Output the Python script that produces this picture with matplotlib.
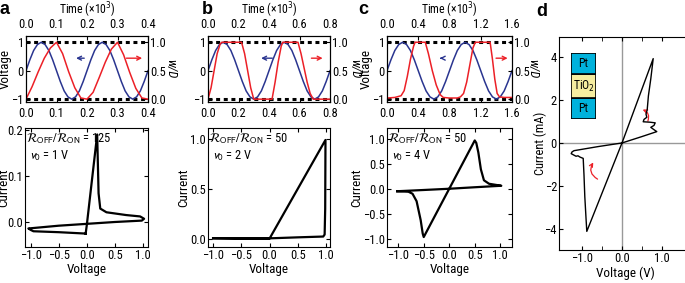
import matplotlib
matplotlib.use('Agg')
import matplotlib.pyplot as plt
from matplotlib.patches import FancyArrowPatch
import numpy as np

# narrow sans, close to the condensed Helvetica of the original
plt.rcParams['font.family'] = ['Roboto Condensed', 'DejaVu Sans']
plt.rcParams['font.stretch'] = 'condensed'
FS = 9.5
plt.rcParams['font.size'] = FS
plt.rcParams['xtick.labelsize'] = 9
plt.rcParams['ytick.labelsize'] = 9

BLUE = '#2a3590'
RED = '#ec2027'

# applied voltage (normalised), two periods, same shape for a, b, c
volt = [0, 0.38, 0.71, 0.92, 1, 0.92, 0.71, 0.38, 0, -0.38, -0.71, -0.92, -1, -0.92, -0.71, -0.38,
        0, 0.38, 0.71, 0.92, 1, 0.92, 0.71, 0.38, 0, -0.38, -0.71, -0.92, -1, -0.92, -0.71, -0.38, 0]
t_frac = np.linspace(0, 1, len(volt))

# w/D state variable
wt_a = [0, 0.02, 0.04, 0.06, 0.08, 0.1, 0.12, 0.14, 0.16, 0.18, 0.2, 0.22, 0.24, 0.26, 0.28,
        0.3, 0.32, 0.34, 0.36, 0.38, 0.4]
w_a = [0, 0.22, 0.48, 0.72, 0.9, 1.0, 0.8, 0.48, 0.2, 0.02, 0, 0.12, 0.38, 0.65, 0.88,
       1.0, 0.78, 0.47, 0.19, 0.02, 0]
wt_b = [0, 0.02, 0.04, 0.06, 0.08, 0.09, 0.22, 0.24, 0.26, 0.28, 0.3, 0.42, 0.44, 0.46, 0.48,
        0.49, 0.59, 0.61, 0.63, 0.65, 0.67, 0.69, 0.8]
w_b = [0, 0.2, 0.5, 0.8, 0.97, 1, 1, 0.8, 0.5, 0.2, 0, 0, 0.3, 0.65, 0.93,
       1, 1, 0.8, 0.55, 0.3, 0.1, 0, 0]
wt_c = [0, 0.1, 0.18, 0.22, 0.26, 0.3, 0.34, 0.36, 0.49, 0.53, 0.58, 0.63, 0.68, 0.72, 0.8,
        0.9, 0.94, 0.98, 1.02, 1.06, 1.1, 1.13, 1.32, 1.35, 1.38, 1.41, 1.44, 1.5, 1.6]
w_c = [0.02, 0.03, 0.06, 0.15, 0.4, 0.7, 0.93, 1, 1, 0.8, 0.5, 0.25, 0.08, 0.03, 0.02,
       0.02, 0.04, 0.1, 0.3, 0.6, 0.9, 1, 1, 0.7, 0.35, 0.1, 0.04, 0.03, 0.03]

# I-V loops
iv_a_v = [-0.02, 0.0, 0.185, 0.21, 0.24, 0.35, 0.7, 0.95, 1.02, 0.98, 0.5, 0.0, -0.5,
          -1.04, -1.0, -0.95, -0.5, -0.02]
iv_a_i = [-0.024, -0.006, 0.19, 0.063, 0.03, 0.022, 0.016, 0.013, 0.008, 0.004, 0.001, -0.003,
          -0.007, -0.013, -0.016, -0.019, -0.021, -0.024]
iv_b_v = [-1.0, -0.5, 0.0, 0.5, 0.99, 0.985, 0.975, 0.95, 0.5, 0.0, -0.5, -1.0]
iv_b_i = [0.004, 0.002, 0.0, 0.5, 0.99, 0.3, 0.04, 0.02, 0.012, 0.002, 0.0, 0.002]
iv_c_v = [-1.02, -0.8, -0.72, -0.64, -0.56, -0.52, -0.5, 0.0, 0.5, 0.53, 0.57, 0.62, 0.68,
          0.78, 0.9, 1.02, 0.5, 0.0, -0.5, -1.02]
iv_c_i = [-0.05, -0.06, -0.1, -0.25, -0.63, -0.9, -0.97, 0.0, 0.97, 0.92, 0.73, 0.39, 0.17,
          0.1, 0.08, 0.06, 0.03, 0.0, -0.025, -0.05]

# experimental TiO2 device
d_v = [0, 0.78, 0.72, 0.66, 0.63, 0.6, 0.62, 0.55, 0.53, 0.7, 0.83, 0.8, 0.72, 0.8, 0.87, 0.5, 0,
       -0.88, -0.9, -0.93, -0.95, -0.97, -1.05, -1.1, -1.15, -1.22, -1.27, -1.25, -1.2, -0.6, 0]
d_i = [0, 3.94, 3.0, 2.2, 1.55, 1.35, 1.2, 1.1, 0.99, 0.97, 0.94, 0.82, 0.73, 0.62, 0.53, 0.3, 0,
       -4.13, -3.5, -2.5, -1.5, -0.72, -0.66, -0.6, -0.62, -0.55, -0.5, -0.42, -0.36, -0.17, 0]

stack_labels = ['Pt', 'TiO$_2$', 'Pt']
stack_colors = ['#00b2dc', '#f6eda0', '#00b2dc']

W, H = 685, 283
fig = plt.figure(figsize=(W / 100, H / 100), dpi=100)


def rect(x0, y0, x1, y1):
    return [x0 / W, 1 - y1 / H, (x1 - x0) / W, (y1 - y0) / H]


def top_panel(r, tmax, tticks, wt, w, blue_arr, red_arr, vlab_x, wlab_x):
    ax = fig.add_axes(r)
    for y in (1, -1):
        ax.axhline(y, color='black', lw=2.2, ls=(0, (1.3, 1.2)), zorder=1)
    ax.plot(t_frac * tmax, volt, color=BLUE, lw=1.1, zorder=2)
    ax.set_xlim(0, tmax)
    ax.set_ylim(-1.1, 1.22)
    ax.set_yticks([-1, 0, 1])
    ax.set_xticks(tticks)
    ax.xaxis.set_major_formatter('{x:.1f}')
    ax.tick_params(direction='in', length=3, pad=1.5, top=True, labeltop=True)
    ax.tick_params(axis='x', pad=3.5)
    if vlab_x is not None:
        ax.set_ylabel('Voltage')
        ax.yaxis.set_label_coords(vlab_x, 0.5)
    ax.set_xlabel('Time (\u00d710$^3$)', labelpad=3, fontsize=8.5)
    ax.xaxis.set_label_position('top')
    ax.annotate('', xy=(blue_arr[1], 0.44), xytext=(blue_arr[0], 0.44),
                arrowprops=dict(arrowstyle='->', color=BLUE, lw=1, mutation_scale=7))
    ax.annotate('', xy=(red_arr[1], 0.44), xytext=(red_arr[0], 0.44),
                arrowprops=dict(arrowstyle='->', color=RED, lw=1, mutation_scale=7))
    ax2 = ax.twinx()
    ax2.plot(wt, w, color=RED, lw=1.1)
    ax2.set_ylim(-0.05, 1.11)
    ax2.set_yticks([0, 0.5, 1.0])
    ax2.yaxis.set_major_formatter('{x:.1f}')
    ax2.tick_params(direction='in', length=3, pad=1.5)
    ax2.set_ylabel('w/D', rotation=270, style='italic', va='center', fontsize=9)
    ax2.yaxis.set_label_coords(wlab_x, 0.5)
    return ax


def iv_panel(r, v, i, xlim, ylim, yticks, ratio, v0, clab_x):
    ax = fig.add_axes(r)
    ax.plot(v, i, color='black', lw=1.6, solid_joinstyle='round')
    ax.set_xlim(*xlim)
    ax.set_ylim(*ylim)
    ax.set_xticks([-1, -0.5, 0, 0.5, 1])
    ax.xaxis.set_major_formatter('{x:.1f}')
    ax.set_yticks(yticks)
    ax.yaxis.set_major_formatter('{x:.1f}')
    ax.tick_params(direction='in', length=3, pad=1.5, top=True, right=True)
    ax.set_xlabel('Voltage', labelpad=1)
    ax.set_ylabel('Current')
    ax.yaxis.set_label_coords(clab_x, 0.5)
    ax.text(0.01, 0.97, r'$\mathcal{R}_{\rm OFF}/\mathcal{R}_{\rm ON}$ = ' + ratio,
            transform=ax.transAxes, va='top', ha='left', fontsize=FS - 0.5,
            math_fontfamily='stixsans')
    ax.text(0.03, 0.83, '$v_0$ = ' + v0, transform=ax.transAxes, va='top', ha='left',
            fontsize=FS - 0.5, math_fontfamily='stixsans')
    return ax


top_panel(rect(26, 36, 148, 102), 0.4, [0, 0.1, 0.2, 0.3, 0.4], wt_a, w_a,
          (0.2, 0.155), (0.32, 0.39), -0.115, 1.19)
top_panel(rect(208, 36, 330, 102), 0.8, [0, 0.2, 0.4, 0.6, 0.8], wt_b, w_b,
          (0.44, 0.33), (0.66, 0.77), None, 1.2)
top_panel(rect(387, 36, 512, 102), 1.6, [0, 0.4, 0.8, 1.2, 1.6], wt_c, w_c,
          (0.74, 0.64), (1.36, 1.58), -0.112, 1.168)

iv_panel(rect(25, 128, 148, 247), iv_a_v, iv_a_i, (-1.1, 1.09), (-0.053, 0.204),
         [0, 0.1, 0.2], '125', '1 V', -0.12)
iv_panel(rect(208, 128, 330, 247), iv_b_v, iv_b_i, (-1.09, 1.07), (-0.085, 1.11),
         [0, 0.5, 1.0], '50', '2 V', -0.148)
iv_panel(rect(387, 128, 512, 247), iv_c_v, iv_c_i, (-1.22, 1.23), (-1.17, 1.22),
         [-1, -0.5, 0, 0.5, 1], '50', '4 V', -0.192)

# panel d
axd = fig.add_axes(rect(559, 37, 692, 250))
axd.axhline(0, color='0.6', lw=1, zorder=1)
axd.axvline(0, color='0.6', lw=1, zorder=1)
axd.plot(d_v, d_i, color='black', lw=1.0, zorder=2)
axd.set_xlim(-1.575, 1.75)
axd.set_ylim(-5, 4.95)
axd.set_xticks([-1, 0, 1])
axd.set_xticks([-0.5, 0.5], minor=True)
axd.xaxis.set_major_formatter('{x:.1f}')
axd.set_yticks([-4, -2, 0, 2, 4])
axd.tick_params(which='both', direction='in', length=3, pad=1.5, top=True)
axd.set_xlabel('Voltage (V)', labelpad=1)
axd.set_ylabel('Current (mA)', fontsize=9)
axd.yaxis.set_label_coords(-0.09, 0.5)
axd.add_patch(FancyArrowPatch((0.62, 0.9), (0.45, 1.6), connectionstyle='arc3,rad=0.6',
                              arrowstyle='->', mutation_scale=6, color=RED, lw=0.9))
axd.add_patch(FancyArrowPatch((-0.55, -1.75), (-0.68, -0.8), connectionstyle='arc3,rad=-0.6',
                              arrowstyle='->', mutation_scale=6, color=RED, lw=0.9))

# Pt / TiO2 / Pt stack
ins = fig.add_axes(rect(571, 53, 596, 119))
bottom = 0
thick = [1, 1.2, 1]
for lab, col, th in zip(stack_labels[::-1], stack_colors[::-1], thick[::-1]):
    ins.bar(0, th, bottom=bottom, width=1, color=col, edgecolor='black', lw=1.2)
    ins.text(0, bottom + th / 2, lab, ha='center', va='center', fontsize=FS - 1)
    bottom += th
ins.set_xlim(-0.5, 0.5)
ins.set_ylim(0, bottom)
ins.axis('off')

for letter, x, y in [('a', 5, 10), ('b', 207, 10), ('c', 363, 10), ('d', 542, 11)]:
    fig.text(x / W, 1 - y / H, letter, fontsize=13, fontweight='bold', ha='center', va='center',
             family='Liberation Sans')

fig.savefig('out.png', dpi=100)
